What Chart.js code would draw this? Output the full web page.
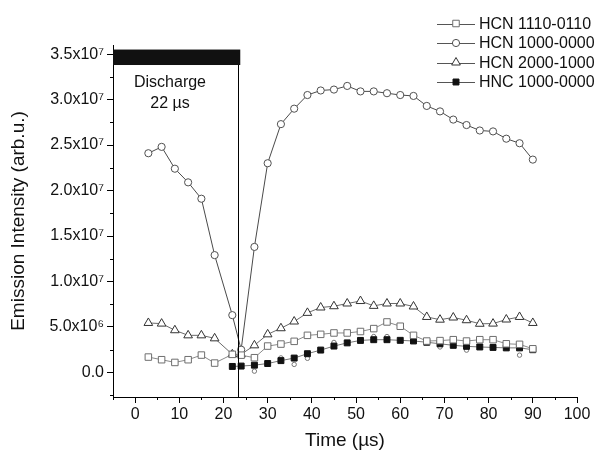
<!DOCTYPE html>
<html><head><meta charset="utf-8">
<script src="https://cdn.jsdelivr.net/npm/chart.js@4/dist/chart.umd.min.js"></script>
<style>html,body{margin:0;padding:0;background:#fff}#wrap{width:598px;height:457px;position:relative}</style>
</head><body><div id="wrap"><canvas id="c" width="598" height="457"></canvas></div>
<script>
// ---- data ----
const timesHCN = [3,6,9,12,15,18,22,24,27,30,33,36,39,42,45,48,51,54,57,60,63,66,69,72,75,78,81,84,87,90];
const hcn1110 = [1.69e6,1.4e6,1.1e6,1.4e6,1.91e6,1.03e6,1.99e6,1.9e6,1.62e6,2.9e6,3.12e6,3.42e6,4.08e6,4.19e6,4.34e6,4.34e6,4.5e6,4.82e6,5.55e6,5.08e6,4.08e6,3.45e6,3.5e6,3.6e6,3.45e6,3.6e6,3.6e6,3.15e6,3.09e6,2.6e6];
const hcn1000 = [2.41e7,2.48e7,2.24e7,2.09e7,1.91e7,1.29e7,6.3e6,2.5e6,1.38e7,2.3e7,2.73e7,2.9e7,3.05e7,3.1e7,3.11e7,3.15e7,3.09e7,3.09e7,3.07e7,3.05e7,3.04e7,2.93e7,2.87e7,2.78e7,2.72e7,2.66e7,2.65e7,2.57e7,2.52e7,2.34e7];
const hcn2000 = [5.44e6,5.37e6,4.64e6,4.08e6,4.08e6,3.75e6,1.99e6,1.99e6,2.98e6,4.19e6,4.86e6,5.6e6,6.55e6,7.14e6,7.28e6,7.58e6,7.85e6,7.32e6,7.58e6,7.58e6,7.25e6,6.1e6,5.8e6,6.04e6,5.74e6,5.35e6,5.37e6,5.82e6,6.1e6,5.44e6];
const timesHNC = [22,24,27,30,33,36,39,42,45,48,51,54,57,60,63,66,69,72,75,78,81,84,87,90];
const hnc1000 = [6.6e5,7.0e5,8.0e5,9.8e5,1.3e6,1.58e6,2.06e6,2.46e6,2.9e6,3.25e6,3.52e6,3.6e6,3.6e6,3.53e6,3.46e6,3.32e6,3.15e6,2.98e6,2.87e6,2.8e6,2.75e6,2.7e6,2.7e6,2.5e6];
const timesExtra = [27,33,36,39,45,54,57,69,75,78,81,87];
const extraPts = [1.4e5,1.6e6,8.8e5,1.55e6,3.3e6,3.95e6,3.95e6,2.8e6,2.45e6,3.6e6,3.55e6,1.9e6];
const seriesLabels = ['HCN 1110-0110','HCN 1000-0000','HCN 2000-1000','HNC 1000-0000'];
const xTickValues = [0,10,20,30,40,50,60,70,80,90,100];
const xMinorTicks = [-5,5,15,25,35,45,55,65,75,85,95];
const yTickValues = [0,5e6,1e7,1.5e7,2e7,2.5e7,3e7,3.5e7];
const yMinorTicks = [-2.5e6,2.5e6,7.5e6,1.25e7,1.75e7,2.25e7,2.75e7,3.25e7];
const dischargeEnd = 23.3;      // vertical line (µs)
const dischargeLabel = ['Discharge','22 \u00b5s'];

const FONT = "'Liberation Sans', Arial, Helvetica, sans-serif";
const pts = (t, v) => t.map((x, i) => ({x, y: v[i]}));
const sup = {6:'\u2076',7:'\u2077'};
function yLabel(v){
  if (Math.abs(v) < 1) return '0.0';
  const e = Math.floor(Math.log10(Math.abs(v)) + 1e-9);
  return (v/Math.pow(10,e)).toFixed(1) + 'x10' + sup[e];
}

const datasets = [
  {label:seriesLabels[0], data:pts(timesHCN,hcn1110), borderColor:'#8a8a8a', borderWidth:1,
   pointStyle:'rect', pointRadius:4.6, pointBorderColor:'#6e6e6e', pointBackgroundColor:'#fff', pointBorderWidth:1},
  {label:seriesLabels[1], data:pts(timesHCN,hcn1000), borderColor:'#4a4a4a', borderWidth:1,
   pointStyle:'circle', pointRadius:3.6, pointBorderColor:'#505050', pointBackgroundColor:'#fff', pointBorderWidth:1},
  {label:seriesLabels[2], data:pts(timesHCN,hcn2000), borderColor:'#6a6a6a', borderWidth:1,
   pointStyle:'triangle', pointRadius:5, pointBorderColor:'#333', pointBackgroundColor:'#fff', pointBorderWidth:1},
  {label:seriesLabels[3], data:pts(timesHNC,hnc1000), borderColor:'#777', borderWidth:1,
   pointStyle:'rect', pointRadius:4.2, pointBorderColor:'#111', pointBackgroundColor:'#111', pointBorderWidth:1},
  {label:'', data:pts(timesExtra,extraPts), showLine:false, borderColor:'#777',
   pointStyle:'circle', pointRadius:2.2, pointBorderColor:'#777', pointBackgroundColor:'#fff', pointBorderWidth:1},
];

const decor = {
  id:'decor',
  afterDraw(chart){
    const {ctx, scales:{x, y}, chartArea:ca} = chart;
    ctx.save();
    // minor ticks
    ctx.strokeStyle = '#000'; ctx.lineWidth = 1;
    xMinorTicks.forEach(v => { const px = Math.round(x.getPixelForValue(v)) + 0.5;
      ctx.beginPath(); ctx.moveTo(px, ca.bottom); ctx.lineTo(px, ca.bottom + 3); ctx.stroke(); });
    yMinorTicks.forEach(v => { const py = Math.round(y.getPixelForValue(v)) + 0.5;
      ctx.beginPath(); ctx.moveTo(ca.left - 3, py); ctx.lineTo(ca.left, py); ctx.stroke(); });
    // discharge bar + line
    const xl = x.getPixelForValue(x.min), xr = x.getPixelForValue(23.8);
    const yt = y.getPixelForValue(3.55e7), yb = y.getPixelForValue(3.38e7);
    ctx.fillStyle = '#111'; ctx.fillRect(xl, yt, xr - xl, yb - yt);
    const xv = Math.round(x.getPixelForValue(dischargeEnd)) + 0.5;
    ctx.beginPath(); ctx.moveTo(xv, yb); ctx.lineTo(xv, ca.bottom); ctx.stroke();
    ctx.fillStyle = '#111'; ctx.font = '16px ' + FONT; ctx.textAlign = 'center'; ctx.textBaseline = 'middle';
    const tx = x.getPixelForValue(7.9);
    ctx.fillText(dischargeLabel[0], tx, y.getPixelForValue(3.19e7));
    ctx.fillText(dischargeLabel[1], tx, y.getPixelForValue(2.96e7));
    // legend
    const rows = [23.5, 43, 62.5, 82];
    ctx.textAlign = 'left';
    for (let i = 0; i < 4; i++) {
      const ds = chart.data.datasets[i], ry = rows[i];
      ctx.strokeStyle = '#555'; ctx.lineWidth = 1;
      ctx.beginPath(); ctx.moveTo(437, Math.round(ry) + 0.5); ctx.lineTo(475, Math.round(ry) + 0.5); ctx.stroke();
      ctx.fillStyle = ds.pointBackgroundColor; ctx.strokeStyle = ds.pointBorderColor;
      Chart.helpers.drawPoint(ctx, {pointStyle: ds.pointStyle, radius: ds.pointRadius, borderWidth: 1}, 456, ry);
      ctx.fillStyle = '#111'; ctx.font = '16px ' + FONT;
      ctx.fillText(ds.label, 479, ry + 1);
    }
    ctx.restore();
  }
};

new Chart(document.getElementById('c'), {
  type:'line',
  data:{datasets},
  options:{
    responsive:false, animation:false,
    layout:{padding:{left:0, top:45, right:21, bottom:0}},
    plugins:{legend:{display:false}, tooltip:{enabled:false}},
    elements:{line:{tension:0}},
    scales:{
      x:{type:'linear', min:-5, max:100,
        afterBuildTicks:s => { s.ticks = xTickValues.map(v => ({value:v})); },
        ticks:{color:'#111', font:{family:FONT, size:16}, padding:2, maxRotation:0, autoSkip:false,
          callback:v => String(v)},
        grid:{drawOnChartArea:false, tickLength:6, color:'#000', tickColor:'#000'},
        border:{color:'#000', width:1},
        title:{display:true, text:'Time (\u00b5s)', color:'#111', font:{family:FONT, size:19}, padding:{top:0, bottom:5}},
        afterFit:s => { s.height = 60; s.paddingLeft = 0; s.paddingRight = 0; }
      },
      y:{type:'linear', min:-2.7e6, max:3.6e7,
        afterBuildTicks:s => { s.ticks = yTickValues.map(v => ({value:v})); },
        ticks:{color:'#111', font:{family:FONT, size:16}, padding:3, autoSkip:false,
          callback:v => yLabel(v)},
        grid:{drawOnChartArea:false, tickLength:6, color:'#000', tickColor:'#000'},
        border:{color:'#000', width:1},
        title:{display:true, text:'Emission Intensity (arb.u.)', color:'#111', font:{family:FONT, size:19}, padding:{top:7, bottom:0}},
        afterFit:s => { s.width = 113; s.paddingTop = 0; s.paddingBottom = 0; }
      }
    }
  },
  plugins:[decor]
});
</script></body></html>
